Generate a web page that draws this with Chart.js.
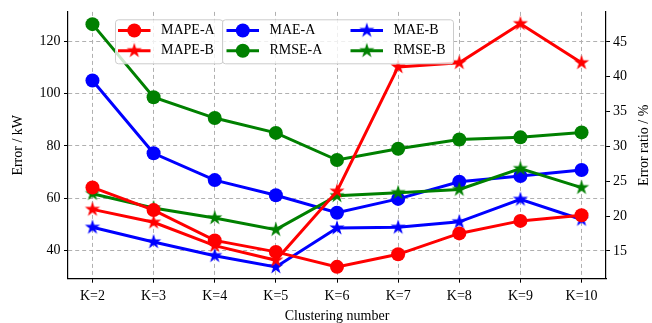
<!DOCTYPE html>
<html>
<head>
<meta charset="utf-8">
<script src="https://cdn.jsdelivr.net/npm/chart.js@4.4.1/dist/chart.umd.min.js"></script>
<style>
  html, body { margin: 0; padding: 0; background: #ffffff; }
  canvas { display: block; }
</style>
</head>
<body>
<canvas id="chart" width="652" height="323"></canvas>
<script>
// Clustering numbers on the x axis
const categories = ['K=2', 'K=3', 'K=4', 'K=5', 'K=6', 'K=7', 'K=8', 'K=9', 'K=10'];

// Error ratio (%) – right axis
const mapeA = [24.1, 20.85, 16.5, 14.85, 12.7, 14.5, 17.5, 19.3, 20.1];
const mapeB = [20.95, 19.1, 15.75, 13.65, 23.55, 41.4, 42.0, 47.6, 42.0];

// Absolute errors (kW) – left axis
const maeA = [105.1, 77.2, 66.9, 61.1, 54.4, 59.7, 66.3, 68.5, 70.8];
const rmseA = [126.7, 98.7, 90.7, 85.0, 74.6, 78.9, 82.5, 83.3, 85.2];
const maeB = [48.8, 43.2, 37.9, 33.6, 48.5, 48.8, 50.9, 59.5, 51.8];
const rmseB = [61.7, 56.2, 52.4, 47.9, 60.9, 62.1, 63.3, 71.3, 64.0];

// Tick values
const kwTicks = [40, 60, 80, 100, 120];
const pctTicks = [15, 20, 25, 30, 35, 40, 45];

const FONT = "'Liberation Serif', 'Times New Roman', serif";
const RED = '#ff0000', BLUE = '#0000ff', GREEN = '#008000';

// Filled five-pointed star sprite used as a point style
function starSprite(color, R) {
  const s = Math.ceil(R * 2) + 2;
  const c = document.createElement('canvas');
  c.width = s; c.height = s;
  const g = c.getContext('2d');
  g.fillStyle = color;
  g.beginPath();
  const r = R * 0.382;
  for (let i = 0; i < 10; i++) {
    const a = -Math.PI / 2 + i * Math.PI / 5;
    const rad = i % 2 === 0 ? R : r;
    const px = s / 2 + rad * Math.cos(a);
    const py = s / 2 + rad * Math.sin(a);
    if (i === 0) g.moveTo(px, py); else g.lineTo(px, py);
  }
  g.closePath();
  g.fill();
  return c;
}

const stars = { [RED]: starSprite(RED, 8), [BLUE]: starSprite(BLUE, 8), [GREEN]: starSprite(GREEN, 8) };

const series = [
  { label: 'MAPE-A', values: mapeA, color: RED,   marker: 'circle', axis: 'yPct', order: 0 },
  { label: 'MAPE-B', values: mapeB, color: RED,   marker: 'star',   axis: 'yPct', order: 1 },
  { label: 'MAE-A',  values: maeA,  color: BLUE,  marker: 'circle', axis: 'yKw',  order: 5 },
  { label: 'RMSE-A', values: rmseA, color: GREEN, marker: 'circle', axis: 'yKw',  order: 4 },
  { label: 'MAE-B',  values: maeB,  color: BLUE,  marker: 'star',   axis: 'yKw',  order: 3 },
  { label: 'RMSE-B', values: rmseB, color: GREEN, marker: 'star',   axis: 'yKw',  order: 2 }
];

const datasets = series.map(s => ({
  label: s.label,
  data: s.values.map((v, i) => ({ x: i, y: v })),
  yAxisID: s.axis,
  order: s.order,
  borderColor: s.color,
  backgroundColor: s.color,
  borderWidth: 3,
  tension: 0,
  fill: false,
  pointStyle: s.marker === 'star' ? stars[s.color] : 'circle',
  pointRadius: 7,
  pointBorderWidth: 0,
  pointBackgroundColor: s.color
}));

// Legend columns, filled top to bottom
const legendCols = [
  { x0: 118,   names: ['MAPE-A', 'MAPE-B'] },
  { x0: 226.5, names: ['MAE-A', 'RMSE-A'] },
  { x0: 350.5, names: ['MAE-B', 'RMSE-B'] }
];
const legendRows = [30.5, 50.7];

function roundRect(ctx, x, y, w, h, r) {
  ctx.beginPath();
  ctx.moveTo(x + r, y);
  ctx.lineTo(x + w - r, y);
  ctx.arcTo(x + w, y, x + w, y + r, r);
  ctx.lineTo(x + w, y + h - r);
  ctx.arcTo(x + w, y + h, x + w - r, y + h, r);
  ctx.lineTo(x + r, y + h);
  ctx.arcTo(x, y + h, x, y + h - r, r);
  ctx.lineTo(x, y + r);
  ctx.arcTo(x, y, x + r, y, r);
  ctx.closePath();
}

const overlay = {
  id: 'overlay',
  afterDatasetsDraw(chart) {
    const ctx = chart.ctx;
    ctx.save();
    // two framed legend boxes
    [[115, 19.3, 107.5, 44], [222, 19.3, 231, 44]].forEach(([x, y, w, h]) => {
      roundRect(ctx, x + 0.5, y + 0.5, w, h, 3);
      ctx.fillStyle = 'rgba(255,255,255,0.8)';
      ctx.fill();
      ctx.strokeStyle = '#cccccc';
      ctx.lineWidth = 1;
      ctx.stroke();
    });
    ctx.font = '14px ' + FONT;
    ctx.textBaseline = 'middle';
    ctx.textAlign = 'left';
    legendCols.forEach(col => {
      col.names.forEach((name, r) => {
        const s = series.find(d => d.label === name);
        const y = legendRows[r];
        ctx.strokeStyle = s.color;
        ctx.lineWidth = 3;
        ctx.beginPath();
        ctx.moveTo(col.x0, y);
        ctx.lineTo(col.x0 + 32.5, y);
        ctx.stroke();
        const mx = col.x0 + 16.3;
        if (s.marker === 'star') {
          const img = stars[s.color];
          ctx.drawImage(img, mx - img.width / 2, y - img.height / 2);
        } else {
          ctx.fillStyle = s.color;
          ctx.beginPath();
          ctx.arc(mx, y, 7, 0, Math.PI * 2);
          ctx.fill();
        }
        ctx.fillStyle = '#000000';
        ctx.fillText(name, col.x0 + 43, y);
      });
    });
    ctx.restore();
  },
  afterDraw(chart) {
    // right axis title, reading bottom to top
    const ctx = chart.ctx;
    const area = chart.chartArea;
    ctx.save();
    ctx.translate(644, (area.top + area.bottom) / 2);
    ctx.rotate(-Math.PI / 2);
    ctx.font = '14px ' + FONT;
    ctx.fillStyle = '#000000';
    ctx.textAlign = 'center';
    ctx.textBaseline = 'middle';
    ctx.fillText('Error ratio / %', 0, 0);
    ctx.restore();
  }
};

const tickFont = { family: FONT, size: 14 };
const gridDash = [4, 3];

new Chart(document.getElementById('chart'), {
  type: 'line',
  data: { datasets },
  plugins: [overlay],
  options: {
    responsive: false,
    animation: false,
    events: [],
    devicePixelRatio: 1,
    layout: { padding: { top: 11.7, left: 0, right: 0, bottom: 0 } },
    plugins: { legend: { display: false }, tooltip: { enabled: false } },
    scales: {
      x: {
        type: 'linear',
        min: -0.4,
        max: 8.4,
        afterBuildTicks: s => { s.ticks = categories.map((_, i) => ({ value: i })); },
        afterFit: s => { s.height = 44.3; },
        ticks: {
          callback: v => categories[v],
          font: tickFont, color: '#000000', padding: 5.5,
          autoSkip: false, maxRotation: 0
        },
        grid: { color: '#b0b0b0', lineWidth: 1, tickColor: '#000000', tickLength: 4, tickWidth: 1 },
        border: { display: true, color: '#000000', width: 1.2, dash: gridDash },
        title: {
          display: true, text: 'Clustering number', color: '#000000',
          font: { family: FONT, size: 14, lineHeight: 1 }, padding: 0
        }
      },
      yKw: {
        type: 'linear',
        position: 'left',
        min: 29.1,
        max: 131.4,
        afterBuildTicks: s => { s.ticks = kwTicks.map(v => ({ value: v })); },
        afterFit: s => { s.width = 68; },
        ticks: { font: tickFont, color: '#000000', padding: 3.5 },
        grid: { color: '#b0b0b0', lineWidth: 1, tickColor: '#000000', tickLength: 4, tickWidth: 1 },
        border: { display: true, color: '#000000', width: 1.2, dash: gridDash },
        title: {
          display: true, text: 'Error / kW', color: '#000000',
          font: { family: FONT, size: 14, lineHeight: 1.2 }, padding: { top: 9.6, bottom: 0 }
        }
      },
      yPct: {
        type: 'linear',
        position: 'right',
        min: 11.0,
        max: 49.3,
        afterBuildTicks: s => { s.ticks = pctTicks.map(v => ({ value: v })); },
        afterFit: s => { s.width = 46; },
        ticks: { font: tickFont, color: '#000000', padding: 3 },
        grid: { drawOnChartArea: false, tickColor: '#000000', tickLength: 4, tickWidth: 1 },
        border: { display: true, color: '#000000', width: 1.2 },
        title: { display: false }
      }
    }
  }
});
</script>
</body>
</html>
